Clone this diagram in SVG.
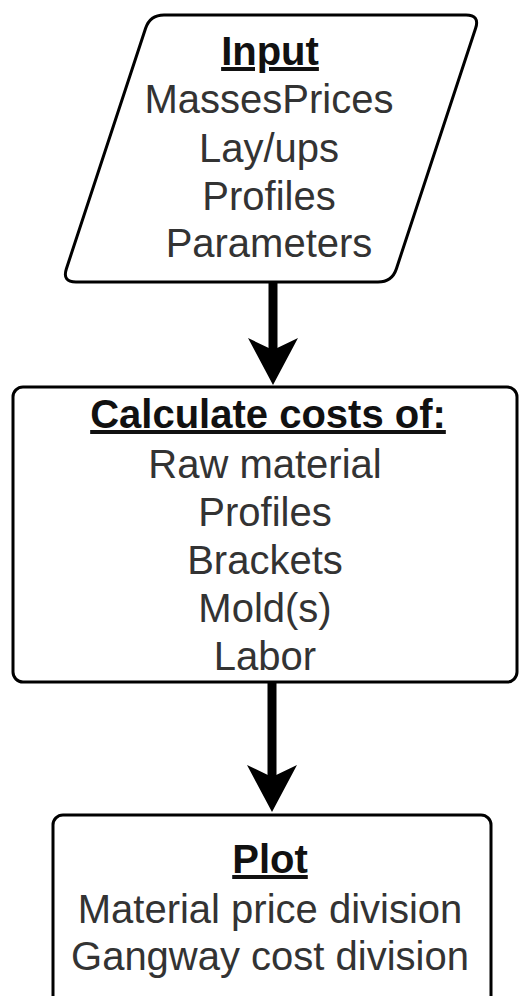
<svg xmlns="http://www.w3.org/2000/svg" width="520" height="996" viewBox="0 0 520 996">
<style>
.shape{fill:#fff;stroke:#000;stroke-width:3}
.t{font-family:"Liberation Sans",Arial,sans-serif;font-size:40px;text-anchor:middle;fill:#333}
.h{font-weight:bold;fill:#111;text-decoration:underline}
.conn{stroke:#000;stroke-width:9;fill:none}
</style>
<defs>
<marker id="ah" markerUnits="userSpaceOnUse" orient="auto" viewBox="0 -26 48 52" markerWidth="48" markerHeight="52" refX="17" refY="0">
<path d="M0,-25 L47,0 L0,25 L12,0 Z" fill="#000"/>
</marker>
</defs>
<g id="connectors">
<path class="conn" d="M273,282 V355" marker-end="url(#ah)"/>
<path class="conn" d="M272,682 V782" marker-end="url(#ah)"/>
</g>
<g id="input">
<path class="shape" d="M164,15 L466,15 Q480,15 475.6,28.3 L396.4,268.7 Q392,282 378,282 L76,282 Q62,282 66.4,268.7 L145.6,28.3 Q150,15 164,15 Z"/>
<text class="t h" x="270" y="65">Input</text>
<text class="t" x="269" y="113">MassesPrices</text>
<text class="t" x="269" y="162">Lay/ups</text>
<text class="t" x="269" y="210">Profiles</text>
<text class="t" x="269" y="257">Parameters</text>
</g>
<g id="calculate">
<rect class="shape" x="13" y="387" width="504" height="295" rx="10"/>
<text class="t h" x="268" y="428">Calculate costs of:</text>
<text class="t" x="265" y="478">Raw material</text>
<text class="t" x="265" y="526">Profiles</text>
<text class="t" x="265" y="574">Brackets</text>
<text class="t" x="265" y="622">Mold(s)</text>
<text class="t" x="265" y="670">Labor</text>
</g>
<g id="plot">
<rect class="shape" x="53" y="815" width="438" height="200" rx="10"/>
<text class="t h" x="270" y="873">Plot</text>
<text class="t" x="270" y="923">Material price division</text>
<text class="t" x="270" y="970">Gangway cost division</text>
</g>
</svg>
